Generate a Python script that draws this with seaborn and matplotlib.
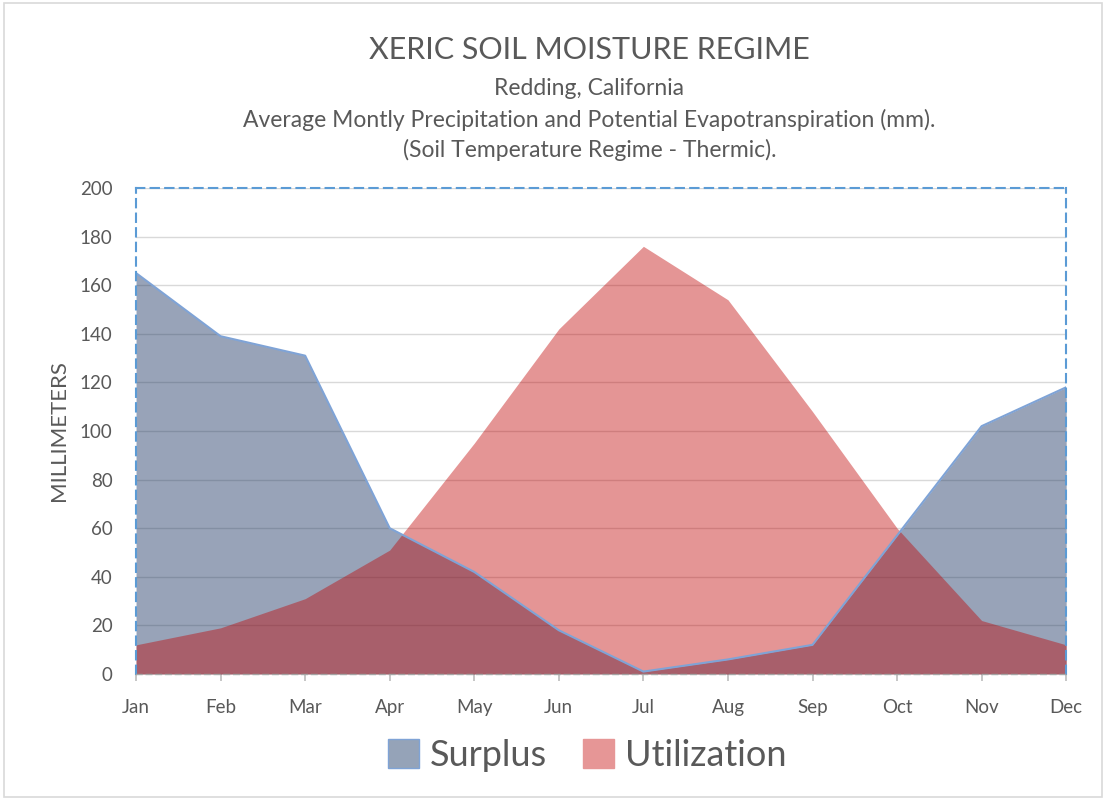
import numpy as np
import pandas as pd
import seaborn as sns
import matplotlib.pyplot as plt
from matplotlib.patches import Patch, Rectangle

# data (mm)
months = ["Jan", "Feb", "Mar", "Apr", "May", "Jun", "Jul", "Aug", "Sep", "Oct", "Nov", "Dec"]
surplus = [165, 139, 131, 60, 42, 18, 1, 6, 12, 57, 102, 118]
utilization = [12, 19, 31, 51, 95, 142, 176, 154, 108, 60, 22, 12]
y_ticks = [0, 20, 40, 60, 80, 100, 120, 140, 160, 180, 200]

df = pd.DataFrame({"month": months, "Surplus": surplus, "Utilization": utilization})
df["pos"] = np.arange(len(months))

sns.set_theme(style="white")
plt.rcParams["font.family"] = ["Lato", "DejaVu Sans"]

text_col = "#595959"
surplus_col = "#1F3864"
util_col = "#C00000"

fig = plt.figure(figsize=(11.06, 8), dpi=100)
ax = fig.add_axes([0.123, 0.1575, 0.841, 0.6075])

# grid under the fills
ax.set_axisbelow(True)
ax.yaxis.grid(True, color="#D9D9D9", linewidth=1)

ax.fill_between(df["pos"], df["Surplus"], color=surplus_col, alpha=0.46, linewidth=0)
sns.lineplot(data=df, x="pos", y="Surplus", ax=ax, color="#7FA3D6", linewidth=1.5)
ax.fill_between(df["pos"], df["Utilization"], color=util_col, alpha=0.415, linewidth=0)

ax.set_xlim(0, 11)
ax.set_ylim(0, 200)
ax.set_xticks(df["pos"])
ax.set_xticklabels(months)
ax.set_yticks(y_ticks)
ax.tick_params(axis="both", labelsize=13.5, colors=text_col)
ax.tick_params(axis="x", length=5, color="#BFBFBF", direction="out", bottom=True, pad=13)
ax.tick_params(axis="y", length=0, pad=17)

for side in ["top", "left", "right", "bottom"]:
    ax.spines[side].set_visible(True)
    ax.spines[side].set_color("#5B9BD5")
    ax.spines[side].set_linestyle((0, (4, 3)))
    ax.spines[side].set_linewidth(1.5)
ax.spines["bottom"].set_color("#A5A5A5")
ax.spines["bottom"].set_linewidth(1)

ax.set_xlabel("")
ax.set_ylabel("MILLIMETERS", fontsize=16, color=text_col, labelpad=8)

# titles
cx = 0.533
fig.text(cx, 0.937, "XERIC SOIL MOISTURE REGIME", ha="center", va="center",
         fontsize=22, color=text_col)
fig.text(cx, 0.889, "Redding, California", ha="center", va="center",
         fontsize=16.5, color=text_col)
fig.text(cx, 0.85, "Average Montly Precipitation and Potential Evapotranspiration (mm).",
         ha="center", va="center", fontsize=16.5, color=text_col)
fig.text(cx, 0.812, "(Soil Temperature Regime - Thermic).", ha="center", va="center",
         fontsize=16.5, color=text_col)

handles = [
    Patch(facecolor="#95A3B8", edgecolor="#7FA3D6", label="Surplus"),
    Patch(facecolor="#E69696", edgecolor="#E69696", label="Utilization"),
]
leg = fig.legend(handles=handles, loc="center", bbox_to_anchor=(0.531, 0.056), ncol=2,
                 frameon=False, fontsize=26, handlelength=0.85, handleheight=0.85,
                 handletextpad=0.3, columnspacing=1.0)
for t in leg.get_texts():
    t.set_color(text_col)

# light outer frame
fig.patches.append(Rectangle((0.004, 0.004), 0.992, 0.992, transform=fig.transFigure,
                             fill=False, edgecolor="#D9D9D9", linewidth=1.2))

fig.savefig("out.png", dpi=100)
